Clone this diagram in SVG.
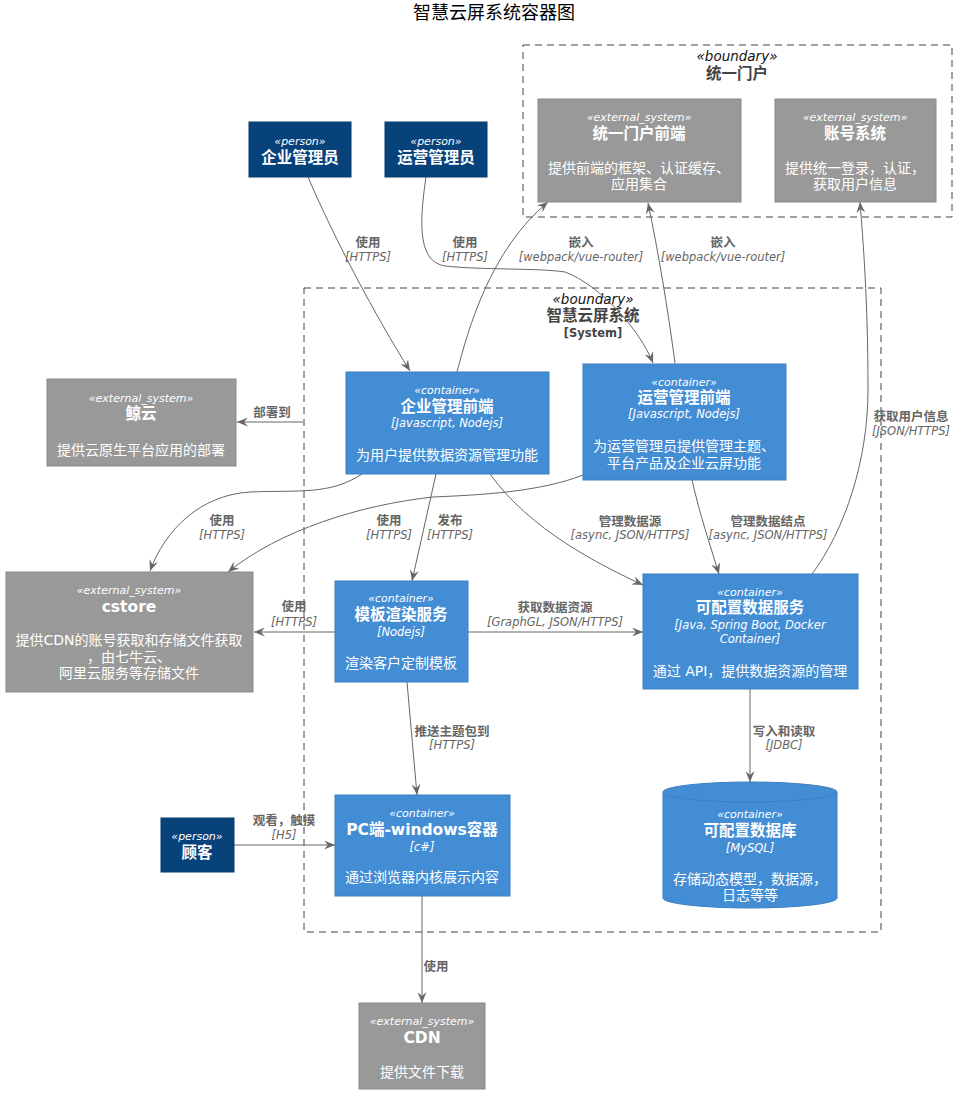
<svg xmlns="http://www.w3.org/2000/svg" width="962" height="1099" viewBox="0 0 962 1099">
  <defs>
    <style>
      text { font-family: "DejaVu Sans", "Noto Sans CJK SC", sans-serif; text-anchor: middle; dominant-baseline: central; }
      .ext { fill: #999999; stroke: #8a8a8a; stroke-width: 1; }
      .cont { fill: #438dd5; stroke: #3c7fc0; stroke-width: 1; }
      .pers { fill: #08427b; stroke: #073b6f; stroke-width: 1; }
      .bnd { fill: none; stroke: #444444; stroke-width: 1; stroke-dasharray: 7 5; }
      .w { fill: #ffffff; }
      .st { font-size: 11px; font-style: italic; }
      .tt { font-size: 15.5px; font-weight: bold; }
      .tc { font-size: 11.5px; font-style: italic; }
      .ds { font-size: 14px; }
      .bs { font-size: 13.5px; font-style: italic; fill: #111111; }
      .bt { font-size: 15.5px; font-weight: bold; fill: #444444; }
      .bx { font-size: 11.5px; font-weight: bold; fill: #444444; }
      .lb { font-size: 12.5px; font-weight: bold; fill: #666666; }
      .lt { font-size: 11.5px; font-style: italic; fill: #666666; }
      .edge { fill: none; stroke: #666666; stroke-width: 1; marker-end: url(#arr); }
    </style>
    <marker id="arr" viewBox="0 0 11 9" refX="11" refY="4.5" markerWidth="11" markerHeight="9" orient="auto" markerUnits="userSpaceOnUse">
      <path d="M0,0 L11,4.5 L0,9 L4,4.5 Z" fill="#666666"/>
    </marker>
  </defs>

  <rect width="962" height="1099" fill="#ffffff"/>

  <!-- title -->
  <text x="494" y="12" style="font-size:18px;fill:#000">智慧云屏系统容器图</text>

  <!-- boundaries -->
  <g id="boundary-portal">
    <rect class="bnd" x="523" y="45" width="429" height="172"/>
    <text class="bs" x="737" y="56">«boundary»</text>
    <text class="bt" x="737" y="74">统一门户</text>
  </g>
  <g id="boundary-system">
    <rect class="bnd" x="304" y="288" width="577" height="644"/>
    <text class="bs" x="593" y="299">«boundary»</text>
    <text class="bt" x="593" y="316">智慧云屏系统</text>
    <text class="bx" x="593" y="333">[System]</text>
  </g>

  <!-- connectors -->
  <g id="connectors">
    <path class="edge" d="M308,177 C335,240 375,315 410,371"/>
    <text class="lb" x="368" y="242">使用</text>
    <text class="lt" x="368" y="257">[HTTPS]</text>

    <path class="edge" d="M426,177 C418,230 420,262 445,266 C480,270 540,268 565,272 C600,285 640,330 653,363"/>
    <text class="lb" x="465" y="242">使用</text>
    <text class="lt" x="465" y="257">[HTTPS]</text>

    <path class="edge" d="M457,372 C468,330 490,250 548,202"/>
    <text class="lb" x="581" y="242">嵌入</text>
    <text class="lt" x="581" y="257">[webpack/vue-router]</text>

    <path class="edge" d="M675,363 C668,310 658,250 648,203"/>
    <text class="lb" x="723" y="242">嵌入</text>
    <text class="lt" x="723" y="257">[webpack/vue-router]</text>

    <path class="edge" d="M812,574 C845,530 868,460 868,390 C868,300 863,240 860,202"/>
    <text class="lb" x="911" y="416">获取用户信息</text>
    <text class="lt" x="911" y="431">[JSON/HTTPS]</text>

    <path class="edge" d="M303,422 L237,422"/>
    <text class="lb" x="272" y="412">部署到</text>

    <path class="edge" d="M362,474 C330,495 300,490 250,492 C200,495 165,530 150,571"/>
    <text class="lb" x="222" y="520">使用</text>
    <text class="lt" x="222" y="535">[HTTPS]</text>

    <path class="edge" d="M583,475 C540,492 480,495 433,497 C360,505 280,530 228,572"/>
    <text class="lb" x="389" y="520">使用</text>
    <text class="lt" x="389" y="535">[HTTPS]</text>

    <path class="edge" d="M436,474 L412,581"/>
    <text class="lb" x="450" y="520">发布</text>
    <text class="lt" x="450" y="535">[HTTPS]</text>

    <path class="edge" d="M490,474 C530,530 600,565 643,585"/>
    <text class="lb" x="630" y="521">管理数据源</text>
    <text class="lt" x="630" y="535">[async, JSON/HTTPS]</text>

    <path class="edge" d="M692,480 C700,515 710,545 719,574"/>
    <text class="lb" x="768" y="521">管理数据结点</text>
    <text class="lt" x="768" y="535">[async, JSON/HTTPS]</text>

    <path class="edge" d="M335,632 L254,632"/>
    <text class="lb" x="294" y="606">使用</text>
    <text class="lt" x="294" y="622">[HTTPS]</text>

    <path class="edge" d="M468,632 L643,632"/>
    <text class="lb" x="555" y="607">获取数据资源</text>
    <text class="lt" x="555" y="622">[GraphGL, JSON/HTTPS]</text>

    <path class="edge" d="M407,682 L417,795"/>
    <text class="lb" x="452" y="731">推送主题包到</text>
    <text class="lt" x="452" y="745">[HTTPS]</text>

    <path class="edge" d="M750,689 L750,782"/>
    <text class="lb" x="784" y="731">写入和读取</text>
    <text class="lt" x="784" y="745">[JDBC]</text>

    <path class="edge" d="M234,845 L335,845"/>
    <text class="lb" x="284" y="820">观看，触摸</text>
    <text class="lt" x="284" y="835">[H5]</text>

    <path class="edge" d="M422,896 L422,1003"/>
    <text class="lb" x="436" y="966">使用</text>
  </g>

  <!-- nodes -->
  <g id="portal-frontend">
    <rect class="ext" x="538" y="99" width="203" height="103"/>
    <text class="w st" x="639" y="117">«external_system»</text>
    <text class="w tt" x="639" y="134">统一门户前端</text>
    <text class="w ds" x="639" y="168">提供前端的框架、认证缓存、</text>
    <text class="w ds" x="639" y="184">应用集合</text>
  </g>

  <g id="account-system">
    <rect class="ext" x="775" y="99" width="161" height="103"/>
    <text class="w st" x="855" y="117">«external_system»</text>
    <text class="w tt" x="855" y="134">账号系统</text>
    <text class="w ds" x="855" y="168">提供统一登录，认证，</text>
    <text class="w ds" x="855" y="184">获取用户信息</text>
  </g>

  <g id="enterprise-admin">
    <rect class="pers" x="249" y="122" width="102" height="55"/>
    <text class="w st" x="300" y="141">«person»</text>
    <text class="w tt" x="300" y="158">企业管理员</text>
  </g>

  <g id="ops-admin">
    <rect class="pers" x="385" y="122" width="102" height="55"/>
    <text class="w st" x="436" y="141">«person»</text>
    <text class="w tt" x="436" y="158">运营管理员</text>
  </g>

  <g id="jingyun">
    <rect class="ext" x="47" y="379" width="189" height="87"/>
    <text class="w st" x="141" y="398">«external_system»</text>
    <text class="w tt" x="141" y="414">鲸云</text>
    <text class="w ds" x="141" y="450">提供云原生平台应用的部署</text>
  </g>

  <g id="enterprise-frontend">
    <rect class="cont" x="346" y="372" width="203" height="102"/>
    <text class="w st" x="447" y="390">«container»</text>
    <text class="w tt" x="447" y="407">企业管理前端</text>
    <text class="w tc" x="447" y="423">[Javascript, Nodejs]</text>
    <text class="w ds" x="447" y="455">为用户提供数据资源管理功能</text>
  </g>

  <g id="ops-frontend">
    <rect class="cont" x="583" y="364" width="203" height="116"/>
    <text class="w st" x="684" y="382">«container»</text>
    <text class="w tt" x="684" y="398">运营管理前端</text>
    <text class="w tc" x="684" y="414">[Javascript, Nodejs]</text>
    <text class="w ds" x="684" y="446">为运营管理员提供管理主题、</text>
    <text class="w ds" x="684" y="463">平台产品及企业云屏功能</text>
  </g>

  <g id="cstore">
    <rect class="ext" x="6" y="572" width="247" height="120"/>
    <text class="w st" x="129" y="590">«external_system»</text>
    <text class="w tt" x="129" y="607">cstore</text>
    <text class="w ds" x="129" y="640">提供CDN的账号获取和存储文件获取</text>
    <text class="w ds" x="129" y="657">，由七牛云、</text>
    <text class="w ds" x="129" y="673">阿里云服务等存储文件</text>
  </g>

  <g id="template-render">
    <rect class="cont" x="335" y="581" width="133" height="101"/>
    <text class="w st" x="401" y="598">«container»</text>
    <text class="w tt" x="401" y="615">模板渲染服务</text>
    <text class="w tc" x="401" y="632">[Nodejs]</text>
    <text class="w ds" x="401" y="663">渲染客户定制模板</text>
  </g>

  <g id="data-service">
    <rect class="cont" x="643" y="574" width="215" height="115"/>
    <text class="w st" x="750" y="592">«container»</text>
    <text class="w tt" x="750" y="608">可配置数据服务</text>
    <text class="w tc" x="750" y="625">[Java, Spring Boot, Docker</text>
    <text class="w tc" x="750" y="639">Container]</text>
    <text class="w ds" x="750" y="671">通过 API，提供数据资源的管理</text>
  </g>

  <g id="customer">
    <rect class="pers" x="161" y="818" width="73" height="54"/>
    <text class="w st" x="197" y="836">«person»</text>
    <text class="w tt" x="197" y="853">顾客</text>
  </g>

  <g id="pc-container">
    <rect class="cont" x="335" y="795" width="175" height="101"/>
    <text class="w st" x="422" y="813">«container»</text>
    <text class="w tt" x="422" y="830">PC端-windows容器</text>
    <text class="w tc" x="422" y="847">[c#]</text>
    <text class="w ds" x="422" y="877">通过浏览器内核展示内容</text>
  </g>

  <g id="database">
    <path class="cont" d="M663,792 L663,898 A87,10 0 0 0 837,898 L837,792 A87,10 0 0 0 663,792 Z"/>
    <path d="M663,792 A87,10 0 0 0 837,792" fill="none" stroke="#3c7fc0" stroke-width="1"/>
    <text class="w st" x="750" y="814">«container»</text>
    <text class="w tt" x="750" y="831">可配置数据库</text>
    <text class="w tc" x="750" y="848">[MySQL]</text>
    <text class="w ds" x="750" y="879">存储动态模型，数据源，</text>
    <text class="w ds" x="750" y="895">日志等等</text>
  </g>

  <g id="cdn">
    <rect class="ext" x="359" y="1003" width="126" height="86"/>
    <text class="w st" x="422" y="1021">«external_system»</text>
    <text class="w tt" x="422" y="1038">CDN</text>
    <text class="w ds" x="422" y="1072">提供文件下载</text>
  </g>
</svg>
